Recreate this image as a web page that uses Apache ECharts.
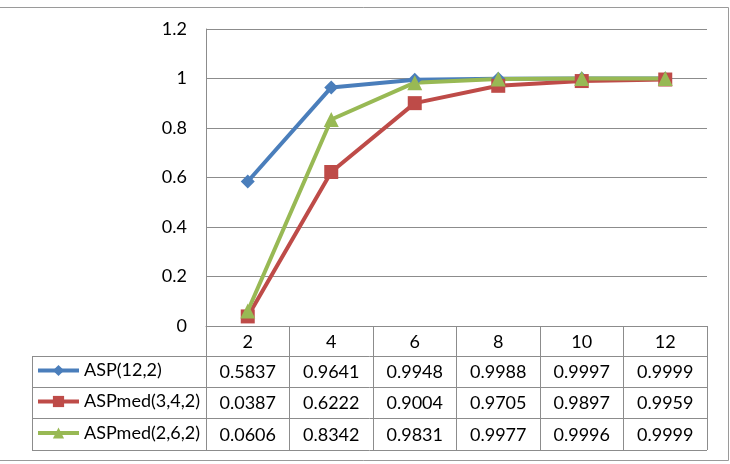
<!DOCTYPE html>
<html>
<head>
<meta charset="utf-8">
<script src="https://cdn.jsdelivr.net/npm/echarts@6/dist/echarts.min.js"></script>
<style>
  html, body { margin: 0; padding: 0; background: #fff; }
  #chart { width: 730px; height: 464px; }
</style>
</head>
<body>
<div id="chart"></div>
<script>
  // data
  var categories = ['2', '4', '6', '8', '10', '12'];
  var seriesNames = ['ASP(12,2)', 'ASPmed(3,4,2)', 'ASPmed(2,6,2)'];
  var asp12 = [0.5837, 0.9641, 0.9948, 0.9988, 0.9997, 0.9999];
  var aspMed342 = [0.0387, 0.6222, 0.9004, 0.9705, 0.9897, 0.9959];
  var aspMed262 = [0.0606, 0.8342, 0.9831, 0.9977, 0.9996, 0.9999];
  var yTicks = [0, 0.2, 0.4, 0.6, 0.8, 1, 1.2];

  var colors = ['#4A7EBB', '#BE4B48', '#98B954'];
  var symbols = ['diamond', 'rect', 'triangle'];
  var symbolSizes = [14, 14, 15];
  var allData = [asp12, aspMed342, aspMed262];

  // layout (pixels)
  var gridL = 206, gridR = 707, gridT = 29, axisY = 326;
  var rowY = [356, 387, 418, 450];
  var tableL = 32;
  var FONT = 'Lato';
  var FS = 18;
  var lineCol = '#8c8c8c';

  var chart = echarts.init(document.getElementById('chart'));

  function getOption() {
    var series = seriesNames.map(function (name, i) {
      return {
        name: name,
        type: 'line',
        data: allData[i],
        symbol: symbols[i],
        symbolSize: symbolSizes[i],
        color: colors[i],
        lineStyle: { width: 4 },
        animation: false
      };
    });
    // one legend per table row, sitting in the left column
    var legends = seriesNames.map(function (name, i) {
      var cy = (rowY[i] + rowY[i + 1]) / 2;
      return {
        data: [name],
        left: 36,
        top: cy - 10,
        padding: 0,
        itemWidth: 41,
        itemHeight: 14,
        itemGap: 0,
        selectedMode: false,
        lineStyle: { width: 4 },
        textStyle: { fontFamily: FONT, fontSize: FS, color: '#000' }
      };
    });
    return {
      backgroundColor: '#fff',
      animation: false,
      grid: { left: gridL, right: 730 - gridR, top: gridT, bottom: 464 - axisY },
      legend: legends,
      xAxis: {
        type: 'category',
        data: categories,
        boundaryGap: true,
        axisLine: { lineStyle: { color: lineCol, width: 1 } },
        axisTick: { show: true, length: rowY[3] - axisY, lineStyle: { color: lineCol } },
        axisLabel: { margin: 7, fontFamily: FONT, fontSize: FS, color: '#000' }
      },
      yAxis: {
        type: 'value',
        min: yTicks[0],
        max: yTicks[yTicks.length - 1],
        interval: 0.2,
        axisLine: { show: true, lineStyle: { color: lineCol, width: 1 } },
        axisTick: { show: false },
        splitLine: { lineStyle: { color: lineCol, width: 1 } },
        axisLabel: { margin: 19, fontFamily: FONT, fontSize: FS, color: '#000' }
      },
      series: series
    };
  }

  chart.setOption(getOption());

  // table body: borders + values, x taken from the category axis
  var graphics = [];
  graphics.push({
    type: 'rect', silent: true,
    shape: { x: -2, y: 7.5, width: 730.5, height: 453 },
    style: { fill: null, stroke: '#9a9a9a', lineWidth: 1 }, z: -1
  });
  rowY.forEach(function (y) {
    graphics.push({
      type: 'line', silent: true,
      shape: { x1: tableL, y1: y + 0.5, x2: gridR, y2: y + 0.5 },
      style: { stroke: lineCol, lineWidth: 1 }
    });
  });
  graphics.push({
    type: 'line', silent: true,
    shape: { x1: tableL + 0.5, y1: rowY[0], x2: tableL + 0.5, y2: rowY[3] },
    style: { stroke: lineCol, lineWidth: 1 }
  });
  allData.forEach(function (vals, i) {
    var cy = (rowY[i] + rowY[i + 1]) / 2 + 1;
    vals.forEach(function (v, j) {
      var x = chart.convertToPixel({ xAxisIndex: 0 }, categories[j]);
      graphics.push({
        type: 'text', silent: true,
        x: x, y: cy,
        style: {
          text: v.toFixed(4),
          fontFamily: FONT, fontSize: FS, fill: '#000',
          align: 'center', verticalAlign: 'middle'
        }
      });
    });
  });
  chart.setOption({ graphic: graphics });
</script>
</body>
</html>
